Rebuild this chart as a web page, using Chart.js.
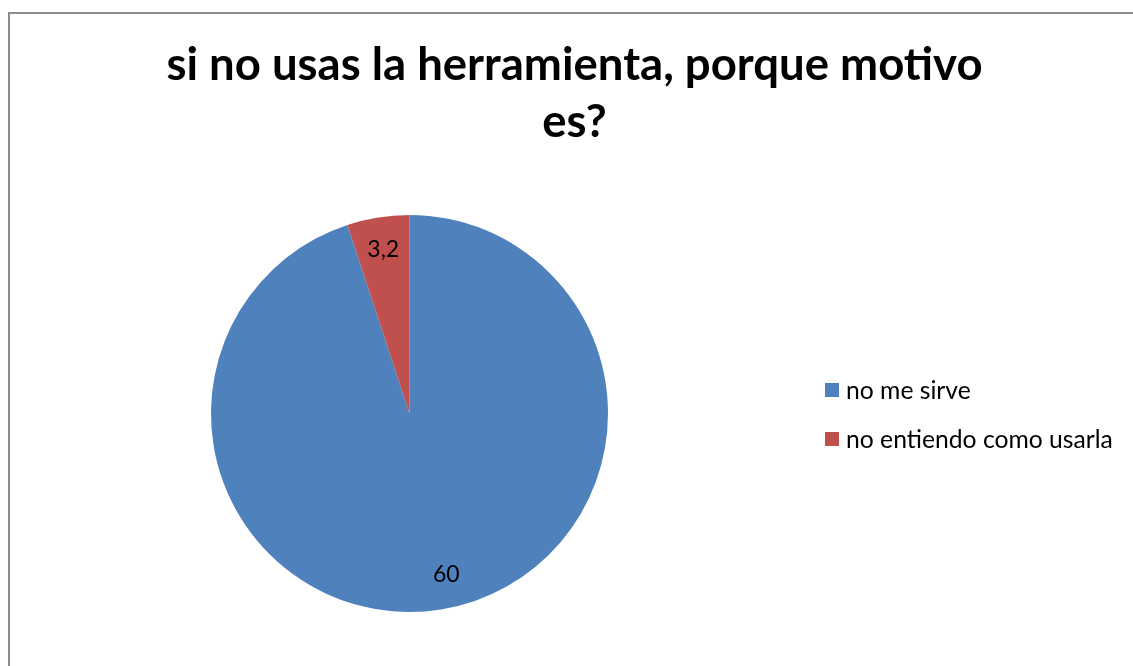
<!DOCTYPE html>
<html>
<head>
<meta charset="utf-8">
<script src="https://cdn.jsdelivr.net/npm/chart.js@4"></script>
<style>
  html, body { margin: 0; padding: 0; background: #fff; }
  #wrap { position: relative; width: 1133px; height: 666px; overflow: hidden; font-family: Lato, "Open Sans", sans-serif; }
  #frame { position: absolute; left: 8px; top: 12px; width: 1200px; height: 700px; border-left: 2px solid #8c8c8c; border-top: 2px solid #8c8c8c; }
  #title { position: absolute; left: 16px; right: 0; top: 34px; text-align: center; font-weight: bold; font-size: 45.5px; line-height: 57px; color: #000; }
  #legend { position: absolute; left: 825px; top: 365px; font-size: 24.7px; color: #000; }
  #legend div { height: 49px; display: flex; align-items: center; white-space: nowrap; }
  #legend span.box { display: inline-block; width: 14px; height: 14px; margin-right: 7px; }
  canvas { position: absolute; left: 0; top: 0; }
</style>
</head>
<body>
<div id="wrap">
  <div id="frame"></div>
  <canvas id="pieChart" width="1133" height="666"></canvas>
  <div id="title">si no usas la herramienta, porque motivo<br>es?</div>
  <div id="legend"></div>
</div>
<script>
// motivos y valores
const labels = ["no me sirve", "no entiendo como usarla"];
const values = [60, 3.2];
const valueText = ["60", "3,2"];
const colors = ["#4F81BD", "#C0504D"];

// where each value label sits: fraction of radius and angle nudge (degrees)
const labelSpots = [{ r: 0.83, nudge: -3.8 }, { r: 0.835, nudge: 0 }];

// legend entries
const legend = document.getElementById("legend");
labels.forEach((name, i) => {
    const row = document.createElement("div");
    row.innerHTML = `<span class="box" style="background:${colors[i]}"></span><span>${name}</span>`;
    legend.appendChild(row);
});

// value labels drawn on each slice
const sliceLabels = {
    id: "sliceLabels",
    afterDatasetsDraw(chart) {
        const ctx = chart.ctx;
        const meta = chart.getDatasetMeta(0);
        ctx.save();
        ctx.font = "23px Lato, 'Open Sans', sans-serif";
        ctx.fillStyle = "#000";
        ctx.textAlign = "center";
        ctx.textBaseline = "middle";
        meta.data.forEach((arc, i) => {
            const spot = labelSpots[i];
            const mid = (arc.startAngle + arc.endAngle) / 2 + spot.nudge * Math.PI / 180;
            const r = arc.outerRadius * spot.r;
            ctx.fillText(valueText[i], arc.x + Math.cos(mid) * r, arc.y + Math.sin(mid) * r);
        });
        ctx.restore();
    }
};

new Chart(document.getElementById("pieChart"), {
    type: "pie",
    data: {
        labels: labels,
        datasets: [{
            data: values,
            backgroundColor: colors,
            borderWidth: 0
        }]
    },
    options: {
        responsive: false,
        animation: false,
        layout: {
            padding: { top: 215, bottom: 54, left: 211, right: 525 }
        },
        plugins: {
            legend: { display: false },
            title: { display: false },
            tooltip: { enabled: false }
        }
    },
    plugins: [sliceLabels]
});
</script>
</body>
</html>
